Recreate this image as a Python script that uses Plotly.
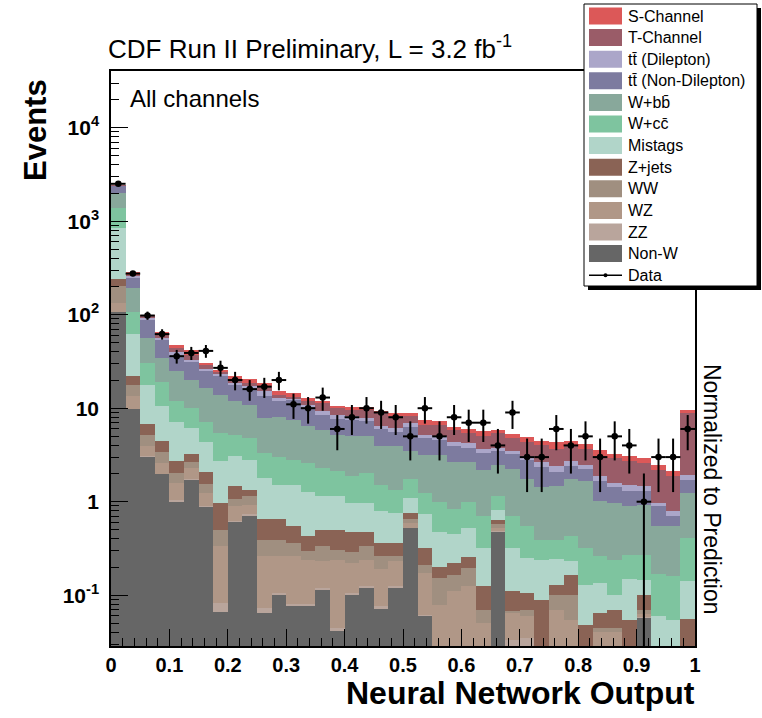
import numpy as np
import plotly.graph_objects as go

# ---------------- data ----------------
n_bins = 40
bin_width = 0.025
bin_centers = [round(bin_width * (i + 0.5), 4) for i in range(n_bins)]

# stacked totals (top edge of each process in the stack), Events per bin
stack_s_channel = [2445, 286, 100, 64.7, 47, 42.2, 30.4, 25.8, 21.9, 20.5,
                   18.6, 15.1, 14.5, 12.9, 11.8, 10.6, 10.3, 10.3, 9.4, 8.87,
                   8.87, 7.4, 7.23, 6.24, 6.0, 5.65, 5.9, 5.3, 4.87, 4.5,
                   4.3, 4.5, 4.17, 3.6, 3.2, 3.05, 2.93, 2.5, 2.15, 9.64]
stack_t_channel = [2425, 268, 96, 61, 44, 37.4, 28.7, 24.4, 20.2, 18.6,
                   17.4, 13.9, 13.2, 11.8, 11.4, 10.0, 9.6, 9.6, 8.87, 8.17,
                   8.17, 6.66, 6.66, 5.79, 5.42, 5.08, 5.45, 4.85, 4.4, 4.07,
                   3.7, 4.0, 3.7, 3.1, 2.9, 2.7, 2.6, 2.2, 1.9, 8.87]
stack_tt_dilepton = [2400, 257, 92, 57, 39.9, 33, 26.3, 23.2, 18.6, 17.1,
                     15.1, 12.9, 12.6, 10.8, 9.25, 8.5, 8.17, 7.86, 6.5, 6.14,
                     6.94, 5.21, 4.99, 4.31, 4.24, 3.66, 3.75, 3.5, 3.05, 2.63,
                     2.4, 2.7, 2.5, 1.87, 1.58, 1.52, 1.48, 0.97, 0.79, 1.94]
stack_tt_nondilepton = [2370, 247, 88, 53, 35.8, 31.2, 24.8, 21.9, 17.5, 15.8,
                        13.4, 11.8, 12.3, 10.4, 8.5, 7.72, 7.4, 7.23, 5.99, 5.51,
                        6.24, 4.8, 4.6, 3.9, 3.75, 3.32, 3.5, 3.25, 2.8, 2.35,
                        2.1, 2.4, 2.25, 1.65, 1.44, 1.3, 1.31, 0.89, 0.7, 1.72]
stack_wbb = [2003, 193, 57, 34.4, 25.2, 20.2, 16.4, 13.9, 11.8, 10.9,
             7.86, 8.0, 7.5, 6.5, 5.79, 5.21, 4.99, 4.99, 3.97, 3.9,
             3.5, 3.18, 3.18, 2.63, 2.63, 2.2, 2.45, 2.25, 1.75, 1.45,
             1.46, 1.75, 1.65, 1.03, 0.97, 0.9, 0.93, 0.55, 0.55, 1.24]
stack_wcc = [1384, 108, 30.4, 19.1, 11.8, 10.05, 7.2, 5.43, 5.2, 4.8,
             3.32, 3.0, 2.81, 2.6, 2.29, 2.11, 1.87, 2.03, 1.52, 1.34,
             1.75, 1.24, 1.0, 0.84, 1.0, 0.7, 1.14, 0.70, 0.55, 0.39,
             0.39, 0.43, 0.32, 0.26, 0.24, 0.27, 0.27, 0.17, 0.16, 0.41]
stack_mistags = [846, 62, 17.5, 10.6, 7.1, 6.14, 4.4, 2.75, 3.05, 2.81,
                 1.79, 1.52, 1.52, 1.26, 1.14, 1.14, 0.97, 0.98, 0.79, 0.757,
                 1.1, 0.73, 0.48, 0.45, 0.52, 0.32, 0.82, 0.32, 0.25, 0.24,
                 0.245, 0.23, 0.13, 0.135, 0.1, 0.15, 0.146, 0.06, 0.055, 0.141]
stack_zjets = [243, 22.3, 6.8, 4.5, 2.7, 3.24, 2.1, 0.97, 1.46, 1.34,
               0.66, 0.66, 0.55, 0.426, 0.5, 0.5, 0.47, 0.48, 0.361, 0.361,
               0.757, 0.32, 0.2, 0.22, 0.256, 0.124, 0.642, 0.11, 0.105, 0.09,
               0.13, 0.166, 0.048, 0.065, 0.07, 0.055, 0.101, 0, 0, 0.056]
stack_ww = [201, 17.5, 5.2, 3.4, 2.03, 2.66, 1.55, 0.5, 1.08, 1.14,
            0.392, 0.392, 0.361, 0.30, 0.333, 0.307, 0.29, 0.333, 0.26, 0.263,
            0.65, 0.212, 0.153, 0.165, 0.195, 0.07, 0.58, 0.068, 0.07, 0,
            0.1, 0.1, 0, 0.045, 0.045, 0, 0.07, 0, 0, 0]
stack_wz = [132, 13.4, 3.9, 2.59, 1.58, 2.29, 1.24, 0.34, 0.89, 0.93,
            0.26, 0.26, 0.26, 0.24, 0.23, 0.24, 0.221, 0.24, 0.19, 0.23,
            0.59, 0.173, 0.078, 0.11, 0.124, 0.05, 0.525, 0.065, 0.06, 0,
            0.07, 0.055, 0, 0.04, 0.04, 0, 0.063, 0, 0, 0]
stack_zz = [108, 9.9, 3.05, 2.0, 1.05, 1.76, 0.91, 0.083, 0.62, 0.73,
            0.073, 0.105, 0.08, 0.08, 0.12, 0.045, 0.105, 0.125, 0.076, 0.125,
            0.53, 0.062, 0, 0, 0, 0, 0.49, 0.033, 0.035, 0,
            0, 0, 0, 0, 0, 0, 0.058, 0, 0, 0]
stack_nonw = [106, 9.7, 2.98, 1.98, 1.0, 1.72, 0.877, 0.066, 0.607, 0.71,
              0.0645, 0.101, 0.076, 0.077, 0.115, 0.041, 0.101, 0.119, 0.072, 0.119,
              0.52, 0.06, 0, 0, 0, 0, 0.48, 0, 0, 0,
              0, 0, 0, 0, 0, 0, 0.057, 0, 0, 0]

data_counts = [2510, 275, 98, 62, 36, 39, 41, 27, 20, 16,
               17, 20, 11, 10, 13, 6, 8, 10, 9, 8,
               5, 10, 5, 8, 7, 7, 4, 9, 3, 3,
               6, 4, 5, 3, 5, 4, 1, 3, 3, 6]

process_names = ["S-Channel", "T-Channel", "tt\u0304 (Dilepton)", "tt\u0304 (Non-Dilepton)",
                 "W+bb\u0304", "W+cc\u0304", "Mistags", "Z+jets", "WW", "WZ", "ZZ", "Non-W"]
process_colors = ["#dc5858", "#9a5c68", "#aba6c9", "#7d7b9f", "#88a89b", "#7ec49f",
                  "#b1d5c9", "#8a6355", "#a08f80", "#b09787", "#b9a59c", "#666666"]
stacks = [stack_s_channel, stack_t_channel, stack_tt_dilepton, stack_tt_nondilepton,
          stack_wbb, stack_wcc, stack_mistags, stack_zjets, stack_ww, stack_wz,
          stack_zz, stack_nonw]

x_tick_vals = [0, 0.1, 0.2, 0.3, 0.4, 0.5, 0.6, 0.7, 0.8, 0.9, 1]
x_tick_text = ["0", "0.1", "0.2", "0.3", "0.4", "0.5", "0.6", "0.7", "0.8", "0.9", "1"]
y_tick_vals = [0.1, 1, 10, 100, 1000, 10000]
y_tick_text = ["10<sup>-1</sup>", "1", "10", "10<sup>2</sup>", "10<sup>3</sup>", "10<sup>4</sup>"]

# ---------------- figure ----------------
W, H = 762, 718
L_PX, R_PX, T_PX, B_PX = 111, 695, 71, 646
FONT = "Liberation Sans, Arial, sans-serif"


def px(x):
    return (x - L_PX) / (R_PX - L_PX)


def py(y):
    return (B_PX - y) / (B_PX - T_PX)


fig = go.Figure()
for name, color, vals in zip(process_names, process_colors, stacks):
    fig.add_trace(go.Bar(x=bin_centers, y=[v if v > 0 else None for v in vals],
                         width=bin_width, marker=dict(color=color, line=dict(width=0)),
                         name=name, showlegend=False, hoverinfo="skip"))

counts = np.array(data_counts, dtype=float)
err = np.sqrt(counts)
err_minus = np.minimum(err, counts * 0.999)
fig.add_trace(go.Scatter(
    x=bin_centers, y=data_counts, mode="markers",
    marker=dict(size=6.5, color="black"),
    error_y=dict(type="data", array=err, arrayminus=err_minus, thickness=2, width=0, color="black"),
    error_x=dict(type="constant", value=bin_width / 2, thickness=2, width=0, color="black"),
    showlegend=False, name="Data"))

minor_y = [m * 10 ** e for e in range(-2, 5) for m in range(2, 10)]

fig.update_layout(
    width=W, height=H, autosize=False,
    margin=dict(l=L_PX, r=W - R_PX, t=T_PX, b=H - B_PX, pad=0),
    paper_bgcolor="white", plot_bgcolor="white",
    barmode="overlay", bargap=0,
    font=dict(family=FONT, color="black"),
    xaxis=dict(range=[0, 1], showgrid=False, zeroline=False,
               showline=True, linecolor="black", linewidth=1.5, mirror=True,
               ticks="inside", ticklen=17, tickwidth=1.2, tickcolor="black",
               tickvals=x_tick_vals, ticktext=x_tick_text,
               tickfont=dict(family=FONT, size=20, weight="bold"),
               minor=dict(dtick=0.02, tick0=0, ticks="inside", ticklen=8,
                          tickwidth=1.2, tickcolor="black", showgrid=False)),
    yaxis=dict(type="log", range=[-1.543, 4.606], showgrid=False, zeroline=False,
               showline=True, linecolor="black", linewidth=1.5, mirror=True,
               ticks="inside", ticklen=17, tickwidth=1.2, tickcolor="black",
               tickvals=y_tick_vals, ticktext=y_tick_text,
               tickfont=dict(family=FONT, size=21, weight="bold"),
               ticklabelstandoff=6,
               minor=dict(tickvals=minor_y, ticks="inside", ticklen=8,
                          tickwidth=1.2, tickcolor="black", showgrid=False)),
)

shapes = []
annotations = []

# texts
annotations.append(dict(xref="paper", yref="paper", x=px(106), y=py(47),
                        xanchor="left", yanchor="middle", showarrow=False,
                        text="CDF Run II Preliminary, L = 3.2 fb<sup>-1</sup>",
                        font=dict(family=FONT, size=26, color="black")))
annotations.append(dict(xref="paper", yref="paper", x=px(128), y=py(98),
                        xanchor="left", yanchor="middle", showarrow=False,
                        text="All channels", font=dict(family=FONT, size=24, color="black")))
annotations.append(dict(xref="paper", yref="paper", x=px(35), y=py(130),
                        xanchor="center", yanchor="middle", showarrow=False, textangle=-90,
                        text="Events", font=dict(family=FONT, size=31, weight="bold", color="black")))
annotations.append(dict(xref="paper", yref="paper", x=px(697), y=py(693),
                        xanchor="right", yanchor="middle", showarrow=False,
                        text="Neural Network Output",
                        font=dict(family=FONT, size=32, weight="bold", color="black")))
annotations.append(dict(xref="paper", yref="paper", x=px(712), y=py(489),
                        xanchor="center", yanchor="middle", showarrow=False, textangle=90,
                        text="Normalized to Prediction", font=dict(family=FONT, size=23, color="black")))

# legend box (ROOT style with shadow)
LX0, LX1, LY0, LY1 = 584, 757, 4, 286
shapes.append(dict(type="rect", xref="paper", yref="paper", layer="above",
                   x0=px(LX0 + 4), x1=px(LX1 + 4), y0=py(LY0 + 4), y1=py(LY1 + 4),
                   fillcolor="black", line=dict(width=0)))
shapes.append(dict(type="rect", xref="paper", yref="paper", layer="above",
                   x0=px(LX0), x1=px(LX1), y0=py(LY0), y1=py(LY1),
                   fillcolor="white", line=dict(color="black", width=1)))
row0, row_step = 16, 21.6
legend_labels = process_names + ["Data"]
for i, label in enumerate(legend_labels):
    yc = row0 + i * row_step
    if i < len(process_colors):
        shapes.append(dict(type="rect", xref="paper", yref="paper", layer="above",
                           x0=px(589), x1=px(622), y0=py(yc - 8.5), y1=py(yc + 8.5),
                           fillcolor=process_colors[i], line=dict(width=0)))
    else:
        shapes.append(dict(type="line", xref="paper", yref="paper", layer="above",
                           x0=px(589), x1=px(622), y0=py(yc), y1=py(yc),
                           line=dict(color="black", width=1.5)))
        shapes.append(dict(type="circle", xref="paper", yref="paper", layer="above",
                           x0=px(603.5), x1=px(607.5), y0=py(yc - 2), y1=py(yc + 2),
                           fillcolor="black", line=dict(width=0)))
    annotations.append(dict(xref="paper", yref="paper", x=px(626), y=py(yc),
                            xanchor="left", yanchor="middle", showarrow=False,
                            text=label, font=dict(family=FONT, size=16, color="black")))

fig.update_layout(shapes=shapes, annotations=annotations)
fig.write_html("out.html", config={"displayModeBar": False},
               post_script="document.body.style.margin='0';document.body.style.overflow='hidden';")
